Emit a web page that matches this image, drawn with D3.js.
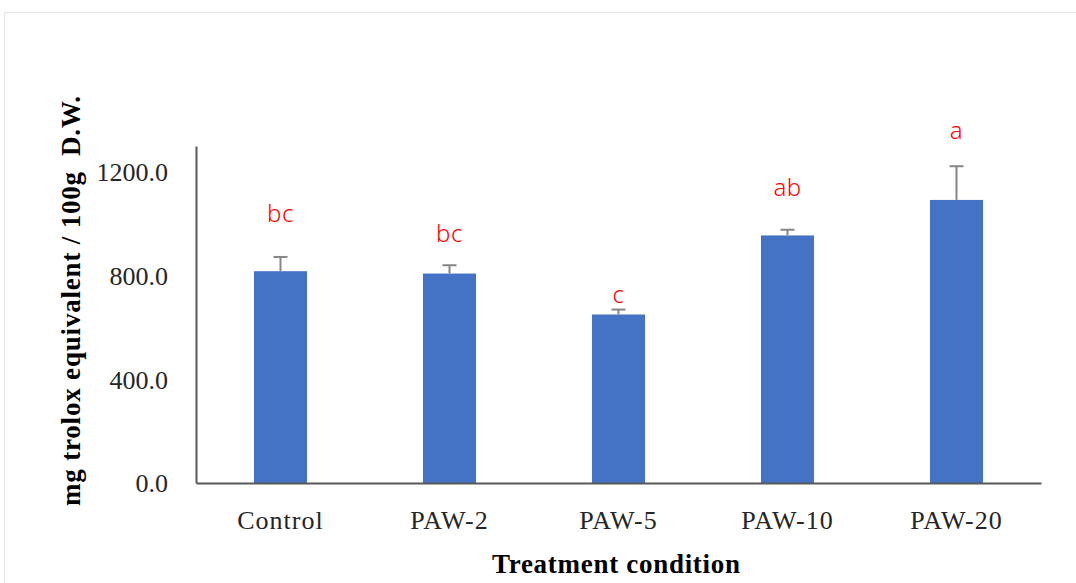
<!DOCTYPE html>
<html lang="en">
<head>
  <meta charset="UTF-8">
  <title>Antioxidant capacity</title>
  <script src="https://cdn.jsdelivr.net/npm/d3@7"></script>
  <style>
    body { margin: 0; background: #fff; }
  </style>
</head>
<body>
  <svg id="chart" width="1076" height="583"></svg>
  <script>
    const categories = ['Control', 'PAW-2', 'PAW-5', 'PAW-10', 'PAW-20'];
    const values = [817, 808, 650, 955, 1092];
    const errors = [55, 32, 19, 22, 130];
    const letters = ['bc', 'bc', 'c', 'ab', 'a'];
    const letterValues = [1007, 930, 694, 1107, 1327];
    const yTicks = [0, 400, 800, 1200];

    const svg = d3.select('#chart');
    const plotLeft = 196, plotRight = 1041, plotTop = 146, plotBottom = 483;

    // chart frame (cropped on right/bottom)
    svg.append('rect')
      .attr('x', 4.5).attr('y', 12.5)
      .attr('width', 1100).attr('height', 600)
      .attr('fill', 'none').attr('stroke', '#e4e4e4').attr('stroke-width', 1);

    let x = d3.scaleBand().domain(categories).range([plotLeft, plotRight])
      .paddingInner(0.686).paddingOuter(0.343);
    let y = d3.scaleLinear().domain([0, 1300]).range([plotBottom, plotTop]);

    svg.selectAll('rect.bar')
      .data(categories)
      .join('rect')
      .attr('class', 'bar')
      .attr('x', d => x(d))
      .attr('y', (d, i) => y(values[i]))
      .attr('width', x.bandwidth())
      .attr('height', (d, i) => y(0) - y(values[i]))
      .attr('fill', '#4472c4');

    // error bars
    let eb = svg.append('g').attr('stroke', '#858585').attr('stroke-width', 2);
    categories.forEach((c, i) => {
      let cx = x(c) + x.bandwidth() / 2;
      eb.append('line')
        .attr('x1', cx).attr('x2', cx)
        .attr('y1', y(values[i])).attr('y2', y(values[i] + errors[i]));
      eb.append('line')
        .attr('x1', cx - 7).attr('x2', cx + 7)
        .attr('y1', y(values[i] + errors[i])).attr('y2', y(values[i] + errors[i]));
    });

    // significance letters
    svg.selectAll('text.letter')
      .data(categories)
      .join('text')
      .attr('class', 'letter')
      .attr('x', d => x(d) + x.bandwidth() / 2)
      .attr('y', (d, i) => y(letterValues[i]))
      .attr('text-anchor', 'middle')
      .attr('font-family', 'Noto Sans, sans-serif')
      .attr('font-size', 24)
      .attr('font-weight', 300)
      .attr('letter-spacing', 0.5)
      .attr('fill', '#ff0000')
      .text((d, i) => letters[i]);

    // y axis
    let yAxis = svg.append('g')
      .attr('transform', `translate(${plotLeft},0)`)
      .call(d3.axisLeft(y).tickValues(yTicks).tickSize(0).tickPadding(28)
        .tickFormat(d3.format('.1f')));
    yAxis.select('.domain').attr('stroke', '#595959').attr('stroke-width', 2);
    yAxis.selectAll('text')
      .attr('font-family', 'Liberation Serif, serif')
      .attr('font-size', 26)
      .attr('dy', '0.34em')
      .attr('fill', '#262626');

    // x axis
    let xAxis = svg.append('g')
      .attr('transform', `translate(0,${plotBottom})`)
      .call(d3.axisBottom(x).tickSize(0).tickPadding(0));
    xAxis.select('.domain').attr('stroke', '#595959').attr('stroke-width', 2);
    xAxis.selectAll('text')
      .attr('y', 46).attr('dy', 0)
      .attr('font-family', 'Liberation Serif, serif')
      .attr('font-size', 26)
      .attr('letter-spacing', 1)
      .attr('fill', '#262626');

    // axis titles
    svg.append('text')
      .attr('transform', 'translate(80,301) rotate(-90)')
      .attr('text-anchor', 'middle')
      .attr('font-family', 'Liberation Serif, serif')
      .attr('font-weight', 'bold')
      .attr('font-size', 27)
      .attr('textLength', 410)
      .attr('lengthAdjust', 'spacing')
      .attr('fill', '#000')
      .attr('xml:space', 'preserve')
      .text('mg trolox equivalent / 100g  D.W.');

    svg.append('text')
      .attr('x', 616).attr('y', 573)
      .attr('text-anchor', 'middle')
      .attr('font-family', 'Liberation Serif, serif')
      .attr('font-weight', 'bold')
      .attr('font-size', 27)
      .attr('textLength', 248)
      .attr('lengthAdjust', 'spacing')
      .attr('fill', '#000')
      .text('Treatment condition');
  </script>
</body>
</html>
